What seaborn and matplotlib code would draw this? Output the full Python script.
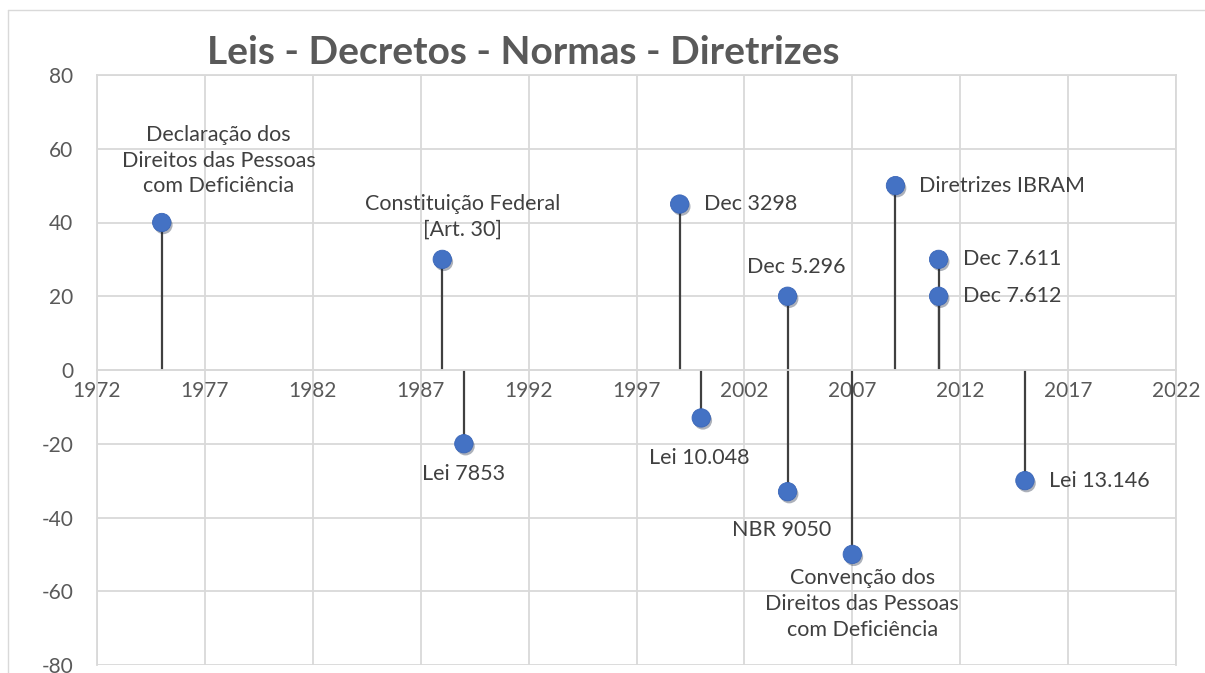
import matplotlib.pyplot as plt
import matplotlib.patheffects as pe
import seaborn as sns
import pandas as pd
from matplotlib.lines import Line2D

# data
years = [1975, 1988, 1989, 1999, 2000, 2004, 2004, 2007, 2009, 2011, 2011, 2015]
heights = [40, 30, -20, 45, -13, 20, -33, -50, 50, 30, 20, -30]
labels = [
    "Declaração dos\nDireitos das Pessoas\ncom Deficiência",
    "Constituição Federal\n[Art. 30]",
    "Lei 7853",
    "Dec 3298",
    "Lei 10.048",
    "Dec 5.296",
    "NBR 9050",
    "Convenção dos\nDireitos das Pessoas\ncom Deficiência",
    "Diretrizes IBRAM",
    "Dec 7.611",
    "Dec 7.612",
    "Lei 13.146",
]
# label placement: (dx px, dy px, ha, va)
placement = [
    (57, 26, "center", "bottom"),
    (20, 20, "center", "bottom"),
    (0, -20, "center", "top"),
    (24, 0, "left", "center"),
    (-2, -30, "center", "top"),
    (9, 19, "center", "bottom"),
    (-6, -28, "center", "top"),
    (10, -14, "center", "top"),
    (24, 0, "left", "center"),
    (24, 0, "left", "center"),
    (24, 0, "left", "center"),
    (24, 0, "left", "center"),
]

df = pd.DataFrame({"year": years, "value": heights, "label": labels})

sns.set_style("white")
plt.rcParams["font.family"] = ["Lato", "DejaVu Sans"]
plt.rcParams["axes.unicode_minus"] = False
txt = "#595959"
grid = "#D9D9D9"

fig = plt.figure(figsize=(12.05, 6.73), dpi=100)
ax = fig.add_axes([97 / 1205, 1 - 665 / 673, (1176 - 97) / 1205, (665 - 75) / 673])

# outer chart border (left and top visible)
fig.add_artist(Line2D([8 / 1205, 8 / 1205], [0, 1 - 10 / 673], transform=fig.transFigure, color=grid, lw=1))
fig.add_artist(Line2D([8 / 1205, 1], [1 - 10 / 673, 1 - 10 / 673], transform=fig.transFigure, color=grid, lw=1))

ax.vlines(df["year"], 0, df["value"], color="#404040", lw=1.6, zorder=2)
sns.scatterplot(data=df, x="year", y="value", ax=ax, s=175, color="#4472C4",
                edgecolor="#3A66B8", linewidth=0.6, zorder=3, legend=False)
for coll in ax.collections:
    if coll.get_offsets().shape[0] == len(df):
        coll.set_path_effects([pe.SimplePatchShadow(offset=(1.2, -1.8), alpha=0.35), pe.Normal()])

for (x, y, lab), (dx, dy, ha, va) in zip(zip(years, heights, labels), placement):
    ax.annotate(lab, (x, y), xytext=(dx * 0.72, dy * 0.72), textcoords="offset points",
                ha=ha, va=va, fontsize=15.5, color="#404040", linespacing=1.35, multialignment="center")

ax.set_xlim(1972, 2022)
ax.set_ylim(-80, 80)
ax.set_xticks(range(1972, 2023, 5))
ax.set_yticks(range(-80, 81, 20))
ax.grid(True, color=grid, lw=1.3)
ax.set_axisbelow(True)
for s in ["left", "right", "top", "bottom"]:
    ax.spines[s].set_color(grid)
    ax.spines[s].set_linewidth(1.3)
ax.tick_params(axis="both", length=0, labelsize=15, colors=txt)
ax.tick_params(axis="y", pad=17)
ax.tick_params(axis="x", pad=8)
# x tick labels sit just under the zero line
ax.xaxis.set_ticks_position("bottom")
ax.spines["bottom"].set_position(("data", 0))
ax.spines["bottom"].set_color(grid)
ax.set_xlabel("")
ax.set_ylabel("")

fig.text(523 / 1205, 1 - 53 / 673, "Leis - Decretos - Normas - Diretrizes", ha="center", va="center",
         fontsize=28, fontweight="bold", color=txt)

fig.savefig("out.png", dpi=100)
